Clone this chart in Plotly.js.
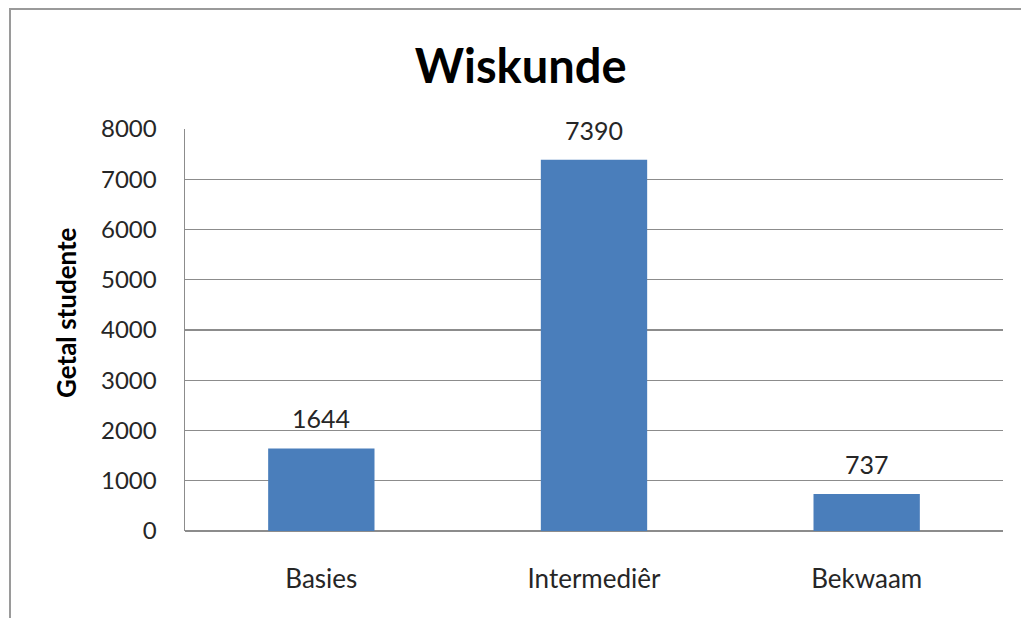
<!DOCTYPE html>
<html>
<head>
<meta charset="utf-8">
<script src="https://cdn.plot.ly/plotly-3.0.1.min.js"></script>
<style>
html,body{margin:0;padding:0;background:#fff;}
#wrap{position:relative;width:1021px;height:618px;overflow:hidden;}
#frame{position:absolute;left:9px;top:8px;width:1100px;height:700px;border-left:2px solid #9a9a9a;border-top:2px solid #9a9a9a;pointer-events:none;}
#chart{position:absolute;left:0;top:0;width:1021px;height:618px;}
</style>
</head>
<body>
<div id="wrap">
<div id="chart"></div>
<div id="frame"></div>
</div>
<script>
const categories = ["Basies", "Intermediêr", "Bekwaam"];
const values = [1644, 7390, 737];
const yTicks = [0, 1000, 2000, 3000, 4000, 5000, 6000, 7000, 8000];
const yTitle = "Getal studente";
const chartTitle = "Wiskunde";

const fontFam = "Lato, 'Open Sans', sans-serif";

const trace = {
  type: "bar",
  x: categories,
  y: values,
  width: 0.39,
  marker: {color: "#4a7ebb", line: {width: 0}},
  hoverinfo: "skip"
};

const annotations = categories.map((c, i) => ({
  x: c, y: values[i], xref: "x", yref: "y",
  text: String(values[i]), showarrow: false,
  yanchor: "bottom", yshift: 13,
  font: {family: fontFam, size: 25, color: "#262626"}
}));

annotations.push({
  xref: "paper", yref: "paper",
  x: -0.1455, y: 0.5448,
  xanchor: "center", yanchor: "middle",
  textangle: -90,
  text: "<b>" + yTitle + "</b>",
  showarrow: false,
  font: {family: fontFam, size: 26, color: "#000"}
});

const layout = {
  width: 1021, height: 618,
  margin: {l: 185, r: 18, t: 129, b: 87},
  paper_bgcolor: "rgba(0,0,0,0)",
  plot_bgcolor: "#fff",
  showlegend: false,
  bargap: 0.61,
  title: {
    text: "<b>" + chartTitle + "</b>",
    font: {family: fontFam, size: 47, color: "#000"},
    x: 0.51, xanchor: "center", y: 0.893, yanchor: "middle"
  },
  xaxis: {
    type: "category",
    showgrid: false,
    showline: false,
    zeroline: false,
    ticks: "",
    ticklabelstandoff: 30,
    tickfont: {family: fontFam, size: 26, color: "#262626"}
  },
  yaxis: {
    range: [0, 8000],
    tickvals: yTicks,
    ticktext: yTicks.map(String),
    showgrid: true,
    gridcolor: "#8c8c8c",
    gridwidth: 1.3,
    showline: true,
    linecolor: "#8c8c8c",
    linewidth: 1.5,
    zeroline: true,
    zerolinecolor: "#8c8c8c",
    zerolinewidth: 1.5,
    ticks: "",
    ticklabelstandoff: 22,
    tickfont: {family: fontFam, size: 24, color: "#262626"}
  },
  annotations: annotations
};

Plotly.newPlot("chart", [trace], layout, {displayModeBar: false, staticPlot: true});
</script>
</body>
</html>
